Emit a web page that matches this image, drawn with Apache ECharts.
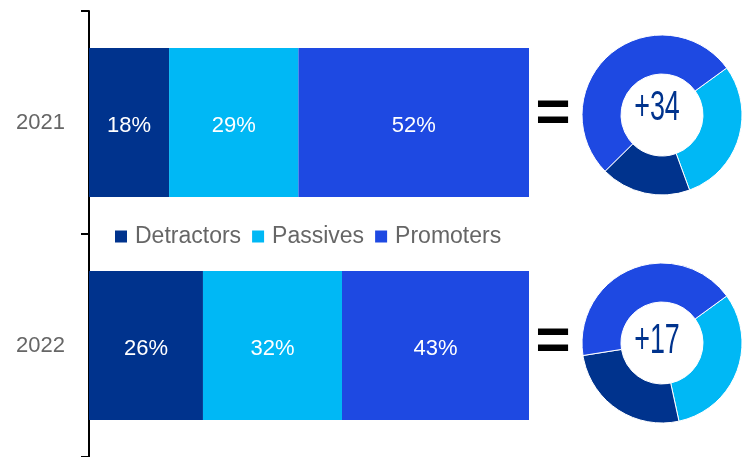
<!DOCTYPE html>
<html>
<head>
<meta charset="utf-8">
<script src="https://cdn.jsdelivr.net/npm/echarts@6/dist/echarts.min.js"></script>
<style>html,body{margin:0;padding:0;background:#fff}#c{width:744px;height:457px}</style>
</head>
<body>
<div id="c"></div>
<script>
var years = ['2021', '2022'];
var detractors = [18.2, 25.9];
var passives = [29.4, 31.6];
var promoters = [52.4, 42.5];
var npsScores = ['+34', '+17'];
var colors = { Detractors: '#00338D', Passives: '#00B8F5', Promoters: '#1E49E2' };

var chart = echarts.init(document.getElementById('c'));
var FONT = '"Liberation Sans", Arial, sans-serif';
function barSeries(name, data) {
  return {
    name: name, type: 'bar', stack: 'total', data: data, barWidth: 149,
    itemStyle: { color: colors[name] },
    label: { show: true, position: 'inside', offset: [0, 3], color: '#fff', fontSize: 22, fontFamily: FONT,
      formatter: function (p) { return Math.round(p.value) + '%'; } }
  };
}
function pieSeries(i, cy) {
  return {
    type: 'pie', center: [662, cy], radius: [41, 80], startAngle: 36, clockwise: true,
    silent: true, label: { show: false }, labelLine: { show: false },
    itemStyle: { borderColor: '#fff', borderWidth: 1 },
    data: [
      { name: 'Passives', value: passives[i], itemStyle: { color: colors.Passives } },
      { name: 'Detractors', value: detractors[i], itemStyle: { color: colors.Detractors } },
      { name: 'Promoters', value: promoters[i], itemStyle: { color: colors.Promoters } }
    ]
  };
}
var centers = [115, 343];
var graphics = [];
npsScores.forEach(function (s, i) {
  graphics.push({ type: 'text', x: 657, y: centers[i] - (i === 0 ? 7 : 2), scaleX: 0.64,
    style: { text: s, x: 0, y: 0, align: 'center', verticalAlign: 'middle', fontSize: 42, fontFamily: FONT, fill: '#00338D' } });
  graphics.push({ type: 'text', x: 553, y: centers[i] - 1,
    style: { text: '=', x: 0, y: 0, align: 'center', verticalAlign: 'middle', fontSize: 60, fontWeight: 'bold', fontFamily: FONT, fill: '#000' } });
});

chart.setOption({
  animation: false,
  legend: {
    left: 110, top: 220, itemWidth: 12, itemHeight: 12, itemGap: 11, icon: 'rect',
    data: ['Detractors', 'Passives', 'Promoters'],
    textStyle: { fontSize: 23, color: '#666', fontFamily: FONT, padding: [0, 0, 0, 3] }
  },
  grid: { left: 89, top: 11, width: 440, height: 448 },
  xAxis: { type: 'value', min: 0, max: 100, show: false },
  yAxis: {
    type: 'category', data: years, inverse: true,
    axisLine: { lineStyle: { color: '#000', width: 2 } },
    axisTick: { show: true, length: 8, lineStyle: { color: '#000', width: 2 } },
    axisLabel: { fontSize: 22, color: '#666', fontFamily: FONT, margin: 24, padding: [4, 0, 0, 0] }
  },
  graphic: graphics,
  series: [
    barSeries('Detractors', detractors),
    barSeries('Passives', passives),
    barSeries('Promoters', promoters),
    pieSeries(0, centers[0]),
    pieSeries(1, centers[1])
  ]
});
</script>
</body>
</html>
